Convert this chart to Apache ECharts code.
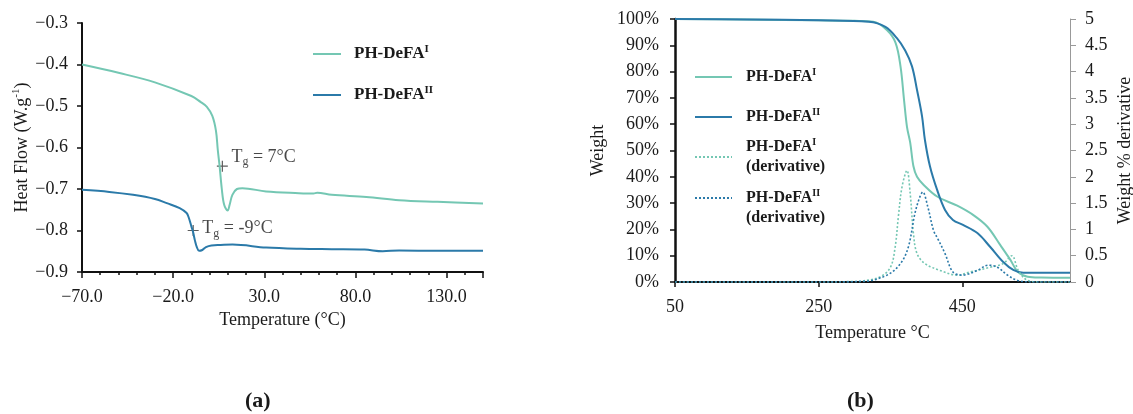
<!DOCTYPE html>
<html><head><meta charset="utf-8">
<script src="https://cdn.jsdelivr.net/npm/echarts@6/dist/echarts.min.js"></script>
<style>html,body{margin:0;padding:0;background:#fff}#c{width:1133px;height:414px}</style>
</head><body><div id="c"></div>
<script>
// ---------- (a) DSC data ----------
const dscTempI = [-70, -50, -30, -10, -5, -1.5, 1.5, 3.5, 4.5, 5.5, 6.7, 8, 9.9, 11, 12.5, 15, 18, 31, 49, 57, 59, 67, 86, 104, 125, 150];
const dscHeatI = [-0.400, -0.420, -0.443, -0.476, -0.490, -0.502, -0.524, -0.560, -0.606, -0.645, -0.700, -0.738, -0.752, -0.738, -0.714, -0.700, -0.698, -0.706, -0.710, -0.711, -0.709, -0.714, -0.719, -0.727, -0.731, -0.735];
const dscTempII = [-70, -55, -42, -30, -23.5, -16.4, -12.6, -11.5, -10, -9, -8, -7, -5.8, -4, -2, 1, 6, 12.6, 31, 50, 67, 85, 95, 104, 125, 150];
const dscHeatII = [-0.702, -0.707, -0.714, -0.724, -0.734, -0.746, -0.758, -0.768, -0.790, -0.805, -0.825, -0.840, -0.849, -0.847, -0.840, -0.836, -0.835, -0.834, -0.841, -0.844, -0.845, -0.846, -0.850, -0.848, -0.849, -0.849];
const tgTemps = [7, -9];
const tgHeat = [-0.645, -0.800];
const tgTexts = ['7°C', '-9°C'];
const dscXLabels = [-70, -20, 30, 80, 130];
const dscXMinor = [-60, -50, -40, -30, -10, 0, 10, 20, 40, 50, 60, 70, 90, 100, 110, 120, 140];
const dscYTicks = [-0.9, -0.8, -0.7, -0.6, -0.5, -0.4, -0.3];

// ---------- (b) TGA data ----------
const tgaTempI = [50, 150, 250, 300, 326, 345, 357, 364, 369, 373, 377.5, 382, 387, 396, 415, 443, 465, 485, 503, 517, 527, 541, 560, 600];
const tgaWeightI = [100, 99.8, 99.5, 99.3, 99.0, 95.8, 91, 82, 69, 59, 53, 44, 40, 37, 32.5, 29, 25.5, 21, 14, 8.4, 4, 2, 1.7, 1.6];
const tgaTempII = [50, 150, 250, 320, 343, 359, 370.5, 380, 387, 394, 398, 405, 415, 426, 437, 451, 471, 489, 507, 521, 535, 560, 600];
const tgaWeightII = [100, 99.8, 99.5, 99.0, 97, 92.7, 88, 82, 73, 63, 54, 44, 35, 27.4, 23.6, 21.7, 18.6, 13.3, 7.6, 4.6, 3.5, 3.5, 3.5];
const derTempI = [50, 250, 300, 312, 336, 350, 356.6, 361, 366, 373, 377.5, 382, 387, 398, 419, 443, 461, 489, 507, 519, 528, 541, 560, 600];
const derValI = [0, 0, 0.01, 0.02, 0.1, 0.28, 0.67, 1.24, 1.8, 2.12, 1.68, 0.92, 0.54, 0.35, 0.22, 0.13, 0.19, 0.28, 0.35, 0.5, 0.22, 0.03, 0, 0];
const derTempII = [50, 250, 312, 345, 364, 375, 384, 391, 395, 402, 410, 416, 426, 437, 450, 471, 486, 499, 513, 527, 545, 600];
const derValII = [0, 0, 0.01, 0.13, 0.35, 0.67, 1.3, 1.62, 1.71, 1.43, 0.98, 0.82, 0.54, 0.19, 0.13, 0.22, 0.32, 0.28, 0.13, 0.03, 0, 0];
const tgaXLabels = [50, 250, 450];

const pairs = (xs, ys) => xs.map((x, i) => [x, ys[i]]);
const FONT = 'Liberation Serif';
const TXT = '#1a1a1a';
const TEAL = '#74c7b3';
const BLUE = '#2b7aa9';
const minus = v => String(v).replace('-', '\u2212');

const legendNames = {
  dscI: '{n|PH-DeFA}{s|I}',
  dscII: '{n|PH-DeFA}{s|II}',
  tgaI: '{m|PH-DeFA}{t|I}',
  tgaII: '{m|PH-DeFA}{t|II}',
  derI: '{m|PH-DeFA}{t|I}\n{m|(derivative)}',
  derII: '{m|PH-DeFA}{t|II}\n{m|(derivative)}'
};
const legendRich = {
  n: {fontFamily: FONT, fontSize: 17, fontWeight: 'bold', color: TXT, lineHeight: 20},
  s: {fontFamily: FONT, fontSize: 11, fontWeight: 'bold', color: TXT, lineHeight: 12, verticalAlign: 'top'},
  m: {fontFamily: FONT, fontSize: 16, fontWeight: 'bold', color: TXT, lineHeight: 20},
  t: {fontFamily: FONT, fontSize: 10, fontWeight: 'bold', color: TXT, lineHeight: 11, verticalAlign: 'top'}
};
function mkLegend(name, left, top, w, pad) {
  return {
    data: [name], left: left, top: top, orient: 'vertical',
    itemWidth: w, itemHeight: 14, padding: 0,
    itemStyle: {opacity: 0},
    selectedMode: false,
    formatter: n => legendNames[n],
    textStyle: {rich: legendRich, padding: pad}
  };
}
const labelStyle = {fontFamily: FONT, fontSize: 18, color: TXT};
const nameRich = {
  a: {fontFamily: FONT, fontSize: 18, color: TXT, lineHeight: 22},
  s: {fontFamily: FONT, fontSize: 11, color: TXT, lineHeight: 11, verticalAlign: 'top'},
  g: {fontFamily: FONT, fontSize: 12, color: TXT, lineHeight: 12, verticalAlign: 'bottom'}
};

const crossPath = 'path://M5,0L5,10M0,5L10,5';
const lineBase = {type: 'line', showSymbol: false, symbol: 'none', smooth: 0.35};

const option = {
  animation: false,
  backgroundColor: '#fff',
  grid: [
    {left: 82, top: 23, width: 401, height: 249, outerBoundsMode: 'none', containLabel: false},
    {left: 675, top: 19, width: 395, height: 263, outerBoundsMode: 'none', containLabel: false}
  ],
  legend: [
    mkLegend('dscI', 312, 44, 28, [0, 0, 0, 8]),
    mkLegend('dscII', 312, 85, 28, [0, 0, 0, 8]),
    mkLegend('tgaI', 694, 67, 37, [0, 0, 0, 9]),
    mkLegend('tgaII', 694, 107, 37, [0, 0, 0, 9]),
    mkLegend('derI', 694, 137, 37, [0, 0, 0, 9]),
    mkLegend('derII', 694, 188, 37, [20, 0, 0, 9])
  ],
  xAxis: [
    {
      type: 'value', gridIndex: 0, min: -70, max: 150, position: 'bottom',
      axisLine: {onZero: false, lineStyle: {color: '#111', width: 2}},
      axisTick: {customValues: dscXLabels.concat([150]), length: 6, lineStyle: {color: '#111', width: 1.5}},
      axisLabel: {customValues: dscXLabels, margin: 16, formatter: v => minus(v.toFixed(1)), ...labelStyle},
      splitLine: {show: false},
      name: 'Temperature (°C)', nameLocation: 'middle', nameGap: 38,
      nameTextStyle: {...labelStyle}
    },
    {
      type: 'value', gridIndex: 1, min: 50, max: 600, position: 'bottom',
      axisLine: {onZero: false, lineStyle: {color: '#111', width: 2}},
      axisTick: {customValues: tgaXLabels, length: 5, lineStyle: {color: '#111', width: 1.5}},
      axisLabel: {customValues: tgaXLabels, margin: 16, ...labelStyle},
      splitLine: {show: false},
      name: 'Temperature °C', nameLocation: 'middle', nameGap: 42,
      nameTextStyle: {...labelStyle}
    },
    {
      type: 'value', gridIndex: 0, min: -70, max: 150, position: 'bottom', offset: 0,
      axisLine: {show: false, onZero: false},
      axisTick: {customValues: dscXMinor, length: 3, lineStyle: {color: '#111', width: 1.5}},
      axisLabel: {show: false},
      splitLine: {show: false}
    }
  ],
  yAxis: [
    {
      type: 'value', gridIndex: 0, min: -0.9, max: -0.3, position: 'left',
      axisLine: {show: true, onZero: false, lineStyle: {color: '#111', width: 2}},
      axisTick: {show: true, customValues: dscYTicks, length: 5, lineStyle: {color: '#111', width: 1.5}},
      axisLabel: {customValues: dscYTicks, margin: 14, formatter: v => minus(v.toFixed(1)), ...labelStyle},
      splitLine: {show: false},
      name: '{a|Heat Flow (W.g}{s|-1}{a|)}', nameLocation: 'middle', nameRotate: 90, nameGap: 49,
      nameTextStyle: {rich: nameRich}
    },
    {
      type: 'value', gridIndex: 1, min: 0, max: 100, interval: 10, position: 'left',
      axisLine: {show: true, onZero: false, lineStyle: {color: '#111', width: 2.5}},
      axisTick: {show: true, length: 5, lineStyle: {color: '#111', width: 1.5}},
      axisLabel: {margin: 16, formatter: '{value}%', ...labelStyle},
      splitLine: {show: false},
      name: 'Weight', nameLocation: 'middle', nameRotate: 90, nameGap: 68,
      nameTextStyle: {...labelStyle}
    },
    {
      type: 'value', gridIndex: 1, position: 'right', min: 0, max: 5, interval: 0.5,
      axisLine: {show: true, onZero: false, lineStyle: {color: '#999', width: 1}},
      axisTick: {show: true, length: 6, lineStyle: {color: '#999', width: 1}},
      axisLabel: {margin: 15, ...labelStyle},
      splitLine: {show: false},
      name: 'Weight % derivative', nameLocation: 'middle', nameRotate: 90, nameGap: 46,
      nameTextStyle: {...labelStyle}
    }
  ],
  series: [
    {
      ...lineBase, name: 'dscI', xAxisIndex: 0, yAxisIndex: 0, data: pairs(dscTempI, dscHeatI),
      lineStyle: {color: TEAL, width: 2}, itemStyle: {color: TEAL}
    },
    {
      ...lineBase, name: 'dscII', xAxisIndex: 0, yAxisIndex: 0, data: pairs(dscTempII, dscHeatII),
      lineStyle: {color: BLUE, width: 2}, itemStyle: {color: BLUE}
    },
    {
      name: 'tg', type: 'scatter', xAxisIndex: 0, yAxisIndex: 0,
      symbol: crossPath, symbolSize: 11,
      itemStyle: {color: 'rgba(0,0,0,0)', borderColor: '#333', borderWidth: 1.2},
      data: tgTemps.map((t, i) => ({
        value: [t, tgHeat[i]],
        label: {
          show: true, position: 'right', distance: 3,
          offset: i === 0 ? [0, -9] : [0, -2],
          formatter: '{a|T}{g|g}{a| = ' + tgTexts[i] + '}',
          rich: nameRich
        }
      }))
    },
    {
      ...lineBase, name: 'tgaI', xAxisIndex: 1, yAxisIndex: 1, data: pairs(tgaTempI, tgaWeightI),
      lineStyle: {color: TEAL, width: 2}, itemStyle: {color: TEAL}
    },
    {
      ...lineBase, name: 'tgaII', xAxisIndex: 1, yAxisIndex: 1, data: pairs(tgaTempII, tgaWeightII),
      lineStyle: {color: BLUE, width: 2}, itemStyle: {color: BLUE}
    },
    {
      ...lineBase, name: 'derI', xAxisIndex: 1, yAxisIndex: 2, data: pairs(derTempI, derValI),
      lineStyle: {color: TEAL, width: 1.6, type: [2, 2]}, itemStyle: {color: TEAL}
    },
    {
      ...lineBase, name: 'derII', xAxisIndex: 1, yAxisIndex: 2, data: pairs(derTempII, derValII),
      lineStyle: {color: BLUE, width: 1.6, type: [2, 2]}, itemStyle: {color: BLUE}
    }
  ],
  graphic: [
    {type: 'text', left: 245, top: 390, style: {text: '(a)', font: 'bold 22px "Liberation Serif"', fill: TXT}},
    {type: 'text', left: 847, top: 390, style: {text: '(b)', font: 'bold 22px "Liberation Serif"', fill: TXT}}
  ]
};
const chart = echarts.init(document.getElementById('c'), null, {renderer: 'canvas'});
chart.setOption(option);
</script>
</body></html>
